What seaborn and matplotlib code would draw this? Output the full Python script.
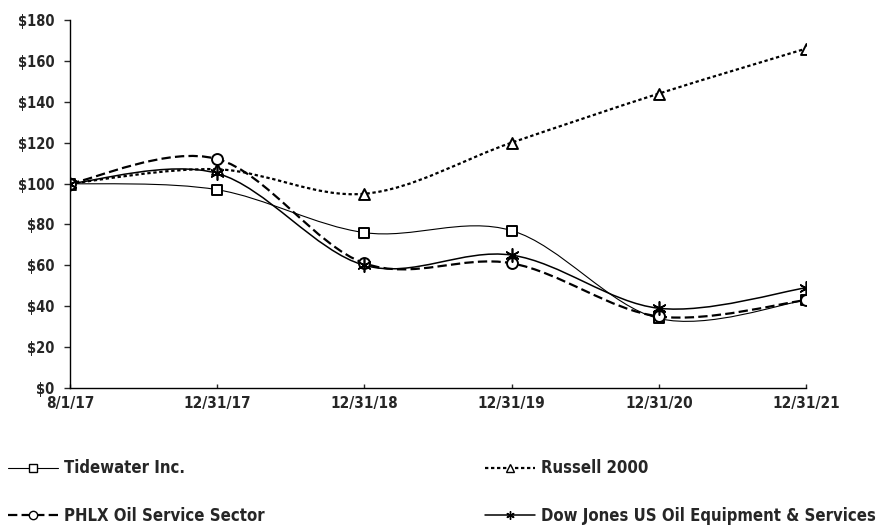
import numpy as np
import pandas as pd
import seaborn as sns
import matplotlib.pyplot as plt
from matplotlib.path import Path
from matplotlib.patches import PathPatch
from matplotlib.lines import Line2D

dates = ["8/1/17", "12/31/17", "12/31/18", "12/31/19", "12/31/20", "12/31/21"]
tidewater = [100, 97, 76, 77, 34, 43]
russell = [100, 107, 95, 120, 144, 166]
phlx = [100, 112, 61, 61, 35, 43]
dow = [100, 105, 60, 65, 39, 49]

sns.set_style("white")
plt.rcParams['font.family'] = ['DejaVu Sans']
plt.rcParams['font.stretch'] = 'condensed'
plt.rcParams['font.weight'] = 'bold'

pos = np.arange(len(dates))


def smooth_path(xs, ys):
    # excel style smoothed line: cubic bezier, catmull-rom control points
    pts = np.column_stack([xs, ys]).astype(float)
    verts = [pts[0]]
    codes = [Path.MOVETO]
    n = len(pts)
    for i in range(n - 1):
        p0 = pts[max(i - 1, 0)]
        p1 = pts[i]
        p2 = pts[i + 1]
        p3 = pts[min(i + 2, n - 1)]
        verts += [p1 + (p2 - p0) / 6, p2 - (p3 - p1) / 6, p2]
        codes += [Path.CURVE4] * 3
    return Path(verts, codes)


series = [
    ("Tidewater Inc.", tidewater, "s", "-", 0.8),
    ("Russell 2000", russell, "^", (0, (1.5, 1.2)), 1.6),
    ("PHLX Oil Service Sector", phlx, "o", (0, (4.2, 1.9)), 1.6),
    ("Dow Jones US Oil Equipment & Services", dow, (6, 2, 0), "-", 1.1),
]

fig = plt.figure(figsize=(8.81, 5.28), dpi=100)
ax = fig.add_axes([70 / 881, 1 - 388 / 528, (806 - 70) / 881, (388 - 20) / 528])

handles = {}
for name, vals, mk, ls, lw in series:
    ax.add_patch(PathPatch(smooth_path(pos, vals), fill=False, edgecolor="black",
                           linewidth=lw, linestyle=ls, zorder=2))
    df = pd.DataFrame({"x": pos, "y": vals})
    if mk == (6, 2, 0):
        sns.scatterplot(data=df, x="x", y="y", marker=mk, s=90, color="black",
                        linewidth=1.2, ax=ax, zorder=3)
    else:
        sns.scatterplot(data=df, x="x", y="y", marker=mk, s=62, facecolor="white",
                        edgecolor="black", linewidth=1.4, ax=ax, zorder=3)
    handles[name] = Line2D([], [], color="black", linestyle=ls, linewidth=lw,
                           marker=mk, markersize=6, markerfacecolor="white",
                           markeredgecolor="black", markeredgewidth=1)

ax.set_xlim(0, 5)
ax.set_ylim(0, 180)
ax.set_yticks(range(0, 181, 20))
ax.set_yticklabels([f"${v}" for v in range(0, 181, 20)])
ax.set_xticks(pos)
ax.set_xticklabels(dates)
ax.set_xlabel("")
ax.set_ylabel("")
for s in ["top", "right"]:
    ax.spines[s].set_visible(False)
for s in ["left", "bottom"]:
    ax.spines[s].set_color("black")
    ax.spines[s].set_linewidth(1.0)
ax.tick_params(axis="y", direction="out", length=4, width=1, labelsize=10.5, pad=7, left=True)
ax.tick_params(axis="x", direction="in", length=3, width=1, labelsize=11, pad=6, bottom=True)

legend_font = {"family": "DejaVu Sans", "stretch": "condensed", "weight": "bold", "size": 12}
leg1 = fig.legend([handles["Tidewater Inc."], handles["PHLX Oil Service Sector"]],
                  ["Tidewater Inc.", "PHLX Oil Service Sector"],
                  loc="upper left", bbox_to_anchor=(0.009, 0.13), frameon=False,
                  prop=legend_font, handlelength=3.0, handletextpad=0.35, labelspacing=1.75,
                  borderaxespad=0, borderpad=0)
leg2 = fig.legend([handles["Russell 2000"], handles["Dow Jones US Oil Equipment & Services"]],
                  ["Russell 2000", "Dow Jones US Oil Equipment & Services"],
                  loc="upper left", bbox_to_anchor=(0.5505, 0.13), frameon=False,
                  prop=legend_font, handlelength=3.0, handletextpad=0.35, labelspacing=1.75,
                  borderaxespad=0, borderpad=0)

fig.savefig("out.png", dpi=100)
